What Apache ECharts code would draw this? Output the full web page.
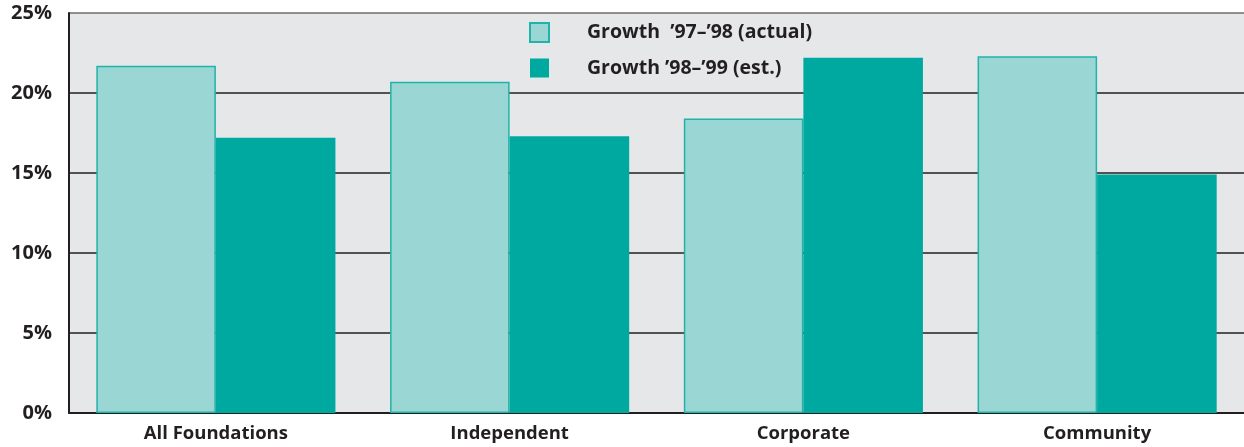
<!DOCTYPE html>
<html>
<head>
<meta charset="utf-8">
<script src="https://cdn.jsdelivr.net/npm/echarts@6/dist/echarts.min.js"></script>
<style>
html,body{margin:0;padding:0;background:#ffffff;}
#chart{width:1244px;height:447px;}
</style>
</head>
<body>
<div id="chart"></div>
<script>
const categories = ['All Foundations', 'Independent', 'Corporate', 'Community'];
const seriesNames = ['Growth  \u201997\u2013\u201998 (actual)', 'Growth \u201998\u2013\u201999 (est.)'];
const growth9798 = [21.7, 20.7, 18.4, 22.3];
const growth9899 = [17.2, 17.3, 22.2, 14.9];
const yTicks = [0, 5, 10, 15, 20, 25];

const chart = echarts.init(document.getElementById('chart'));
const fontFam = '"Open Sans", Lato, sans-serif';
chart.setOption({
  animation: false,
  backgroundColor: '#ffffff',
  legend: {
    orient: 'vertical',
    left: 529,
    top: 22,
    padding: 0,
    itemWidth: 19,
    itemHeight: 19,
    itemGap: 15,
    icon: 'rect',
    selectedMode: false,
    textStyle: {
      fontFamily: fontFam,
      fontWeight: 'bold',
      fontSize: 19.5,
      lineHeight: 19,
      color: '#231f20',
      padding: [0, 0, 0, 33]
    },
    data: seriesNames
  },
  grid: {
    left: 69, right: 0, top: 13, bottom: 34,
    show: true,
    backgroundColor: '#e6e7e8',
    borderWidth: 0
  },
  xAxis: {
    type: 'category',
    data: categories,
    axisTick: { show: false },
    axisLine: { show: true, lineStyle: { color: '#231f20', width: 2 } },
    axisLabel: {
      margin: 11,
      fontFamily: fontFam,
      fontWeight: 'bold',
      fontSize: 18.5,
      color: '#231f20'
    }
  },
  yAxis: {
    type: 'value',
    min: yTicks[0],
    max: yTicks[yTicks.length - 1],
    interval: 5,
    axisLine: { show: true, lineStyle: { color: '#231f20', width: 2 } },
    axisTick: { show: false },
    splitLine: {
      show: true,
      lineStyle: { color: ['#231f20', '#231f20', '#231f20', '#231f20', '#231f20', '#6d6e71'], width: 1.5 }
    },
    axisLabel: {
      margin: 17,
      fontFamily: fontFam,
      fontWeight: 'bold',
      fontSize: 20,
      color: '#231f20',
      formatter: v => v + '%'
    }
  },
  series: [
    {
      name: seriesNames[0],
      type: 'bar',
      data: growth9798,
      barGap: '0%',
      barCategoryGap: '18.6%',
      itemStyle: { color: '#99d6d4', borderColor: '#20b3aa', borderWidth: 1.5 }
    },
    {
      name: seriesNames[1],
      type: 'bar',
      data: growth9899,
      barGap: '0%',
      barCategoryGap: '18.6%',
      itemStyle: { color: '#00a9a0', borderColor: '#00a9a0', borderWidth: 0 }
    }
  ]
});
</script>
</body>
</html>
